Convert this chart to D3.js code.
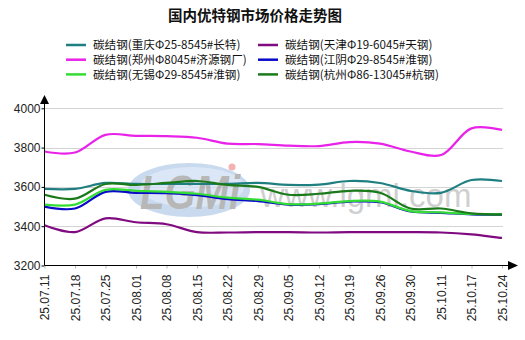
<!DOCTYPE html>
<html>
<head>
<meta charset="utf-8">
<script src="https://cdn.jsdelivr.net/npm/d3@7/dist/d3.min.js"></script>
<style>
  html, body { margin: 0; padding: 0; background: #fff; }
  svg { display: block; }
  text { font-family: Arial, "Liberation Sans", sans-serif; }
  .cjk { font-family: "Noto Sans CJK SC", "Noto Sans", sans-serif; }
</style>
</head>
<body>
<svg id="chart" width="525" height="340"></svg>
<script>
// Weekly price dates (yy.mm.dd)
const dates = ["25.07.11","25.07.18","25.07.25","25.08.01","25.08.08","25.08.15","25.08.22","25.08.29",
               "25.09.05","25.09.12","25.09.19","25.09.26","25.09.30","25.10.11","25.10.17","25.10.24"];

// Prices, yuan/ton
const chongqing = [3590,3590,3620,3615,3615,3615,3615,3620,3610,3612,3630,3620,3580,3570,3635,3630];
const tianjin   = [3405,3370,3440,3420,3410,3370,3368,3370,3370,3368,3370,3370,3370,3368,3358,3340];
const zhengzhou = [3780,3775,3865,3860,3858,3850,3820,3818,3810,3808,3828,3820,3780,3762,3898,3890];
const jiangyin  = [3500,3490,3575,3570,3568,3558,3538,3528,3510,3512,3525,3522,3475,3468,3460,3458];
const wuxi      = [3510,3510,3585,3580,3575,3565,3545,3535,3512,3515,3528,3525,3477,3470,3462,3460];
const hangzhou  = [3560,3540,3615,3610,3620,3630,3610,3600,3560,3565,3580,3570,3490,3490,3465,3460];

const seriesNames = ["碳结钢(重庆Φ25-8545#长特)","碳结钢(天津Φ19-6045#天钢)","碳结钢(郑州Φ8045#济源钢厂)",
                     "碳结钢(江阴Φ29-8545#淮钢)","碳结钢(无锡Φ29-8545#淮钢)","碳结钢(杭州Φ86-13045#杭钢)"];
const seriesValues = [chongqing, tianjin, zhengzhou, jiangyin, wuxi, hangzhou];
const seriesColors = ["#1f7f80","#800a80","#e822e8","#0a0ac8","#33dd33","#1a7a1a"];

const yTicks = [3200,3400,3600,3800,4000];
const title = "国内优特钢市场价格走势图";

const svg = d3.select("#chart");
const plotLeft = 44.5, plotRight = 502, plotTop = 108.3, plotBottom = 265.5;

const x = d3.scalePoint().domain(dates).range([plotLeft, plotRight]);
const y = d3.scaleLinear().domain([3200, 4000]).range([plotBottom, plotTop]);

// Title
svg.append("text").attr("class","cjk")
  .attr("x", 255).attr("y", 21)
  .attr("text-anchor","middle")
  .attr("font-size", 14.5).attr("font-weight","bold").attr("fill","#111")
  .text(title);

// Legend, two columns
const legend = svg.append("g");
seriesNames.forEach((name, i) => {
  const col = i % 2, row = Math.floor(i / 2);
  const lx = col === 0 ? 66 : 258;
  const ly = 45 + row * 14.7;
  legend.append("line")
    .attr("x1", lx).attr("x2", lx + 20).attr("y1", ly).attr("y2", ly)
    .attr("stroke", seriesColors[i]).attr("stroke-width", 2.5);
  legend.append("text").attr("class","cjk")
    .attr("x", lx + 27).attr("y", ly + 4.2)
    .attr("font-size", 11.6).attr("fill","#111")
    .text(name);
});

// Horizontal grid
svg.append("g").selectAll("line")
  .data(yTicks.filter(v => v > 3200))
  .join("line")
  .attr("x1", plotLeft).attr("x2", plotRight + 1)
  .attr("y1", d => Math.round(y(d)) + 0.5).attr("y2", d => Math.round(y(d)) + 0.5)
  .attr("stroke", "#d4d4d4").attr("stroke-width", 1);

// Watermark: site logo and address
const wm = svg.append("g").attr("opacity", 0.8);
wm.append("ellipse").attr("cx", 189).attr("cy", 190).attr("rx", 61).attr("ry", 27)
  .attr("fill", "#bcd2ec");
wm.append("ellipse").attr("cx", 192).attr("cy", 187).attr("rx", 52).attr("ry", 20)
  .attr("fill", "#d3e2f4");
wm.append("text").attr("x", 190).attr("y", 209).attr("text-anchor","middle")
  .attr("font-size", 48).attr("font-weight","bold").attr("font-style","italic")
  .attr("fill","#a6a6a6").attr("textLength", 100).attr("lengthAdjust","spacingAndGlyphs")
  .attr("font-family","Arial, sans-serif").text("LGMi");
wm.append("circle").attr("cx", 232).attr("cy", 167).attr("r", 3.5).attr("fill", "#f0a0a0");
svg.append("text").attr("x", 366).attr("y", 207).attr("text-anchor","middle")
  .attr("font-size", 33).attr("fill","#cfcfcf")
  .attr("font-family","'Liberation Serif', 'DejaVu Serif', serif")
  .text("www.lgmi.com");

// Series lines
const line = d3.line()
  .x((d, i) => x(dates[i]))
  .y(d => y(d))
  .curve(d3.curveCatmullRom.alpha(0.5));

svg.append("g").selectAll("path")
  .data(seriesValues)
  .join("path")
  .attr("d", d => line(d))
  .attr("fill", "none")
  .attr("stroke", (d, i) => seriesColors[i])
  .attr("stroke-width", 2.2);

// Y axis
const yAxis = svg.append("g").attr("transform", `translate(${plotLeft},0)`)
  .call(d3.axisLeft(y).tickValues(yTicks).tickSize(3).tickPadding(1).tickFormat(d3.format("d")));
yAxis.select(".domain").remove();
yAxis.selectAll("line").attr("stroke", "#000");
yAxis.selectAll("text").attr("font-size", 12).attr("fill", "#222")
  .attr("font-family","Arial, 'Liberation Sans', sans-serif");

// X axis
const xAxis = svg.append("g").attr("transform", `translate(0,${plotBottom})`)
  .call(d3.axisBottom(x).tickSize(3).tickPadding(2));
xAxis.select(".domain").remove();
xAxis.selectAll("line").attr("stroke", "#bbb");
xAxis.selectAll("text")
  .attr("font-size", 12).attr("fill", "#222")
  .attr("font-family","Arial, 'Liberation Sans', sans-serif")
  .attr("transform", "rotate(-90)")
  .attr("text-anchor", "end")
  .attr("x", -9).attr("y", 0).attr("dy", "0.35em");

// Axis lines with arrowheads
svg.append("line").attr("x1", plotLeft).attr("x2", plotLeft).attr("y1", plotBottom).attr("y2", 100)
  .attr("stroke", "#000").attr("stroke-width", 1);
svg.append("path").attr("d", `M${plotLeft - 4.5},104 L${plotLeft + 4.5},104 L${plotLeft},95 Z`).attr("fill", "#000");
svg.append("line").attr("x1", plotLeft).attr("x2", 512).attr("y1", plotBottom).attr("y2", plotBottom)
  .attr("stroke", "#000").attr("stroke-width", 1);
svg.append("path").attr("d", `M508,${plotBottom - 4.5} L508,${plotBottom + 4.5} L518,${plotBottom} Z`).attr("fill", "#000");
</script>
</body>
</html>
